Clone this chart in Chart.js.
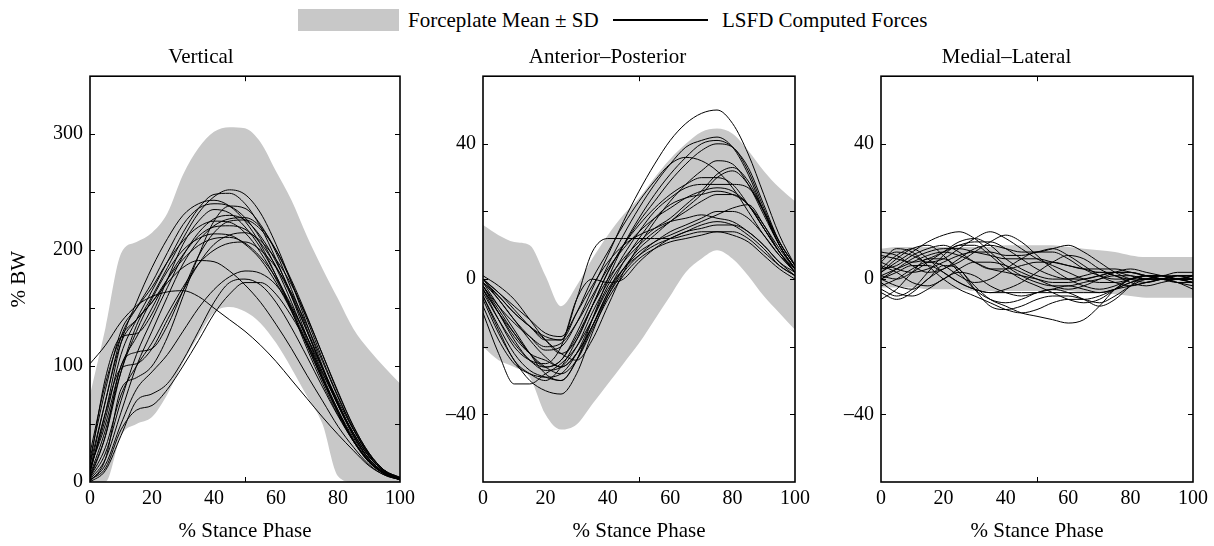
<!DOCTYPE html>
<html>
<head>
<meta charset="utf-8">
<script src="https://cdn.jsdelivr.net/npm/chart.js@4"></script>
<style>
  body { margin: 0; width: 1214px; height: 546px; background: #fff; position: relative; overflow: hidden;
         font-family: "Liberation Serif", "Times New Roman", serif; }
  canvas { position: absolute; top: 40px; }
  .leg { position: absolute; font-size: 21px; line-height: 22px; top: 9px; white-space: nowrap; }
</style>
</head>
<body>
<div style="position:absolute;left:298px;top:9px;width:101px;height:22px;background:#c8c8c8"></div>
<div class="leg" style="left:408px">Forceplate Mean ± SD</div>
<div style="position:absolute;left:613px;top:19px;width:95px;height:2px;background:#000"></div>
<div class="leg" style="left:722px">LSFD Computed Forces</div>

<canvas id="vert" width="420" height="506" style="left:0px"></canvas>
<canvas id="ap" width="395" height="506" style="left:420px"></canvas>
<canvas id="ml" width="394" height="506" style="left:820px"></canvas>

<script>
// % stance phase, sampled every 5 %
const stance = [0, 5, 10, 15, 20, 25, 30, 35, 40, 45, 50, 55, 60, 65, 70, 75, 80, 85, 90, 95, 100];

// forceplate mean +/- SD bands
const vertUpper = [75, 133, 197, 207, 215, 232, 265, 288, 302, 306, 305, 293, 268, 243, 212, 184, 158, 132, 114, 99, 85];
const vertLower = [0, 0, 40, 50, 56, 76, 103, 126, 146, 151, 147, 137, 120, 98, 74, 50, 5, 0, 0, 0, 0];
const apUpper = [16, 13, 11, 10, 1, -8, -2, 6, 13, 19, 24, 30, 35.5, 40, 43.5, 44.5, 43, 38, 32, 27, 23];
const apLower = [-20, -24, -26, -29, -40, -44.5, -43, -37, -31, -25, -19, -12, -5, 2, 6, 8.5, 6, 1, -5, -10, -15];
const mlUpper = [9, 9.5, 9.5, 9.5, 9.5, 9.5, 9.5, 9.5, 10, 10, 10, 10, 9.5, 9, 8.5, 8, 7, 6.5, 6.5, 6.5, 6.5];
const mlLower = [-2.5, -2.5, -2.5, -3, -3, -3, -3.5, -3.5, -3.5, -3.5, -3.5, -3.5, -3.5, -4, -4, -4.5, -5, -5.5, -5.5, -5.5, -5.5];

// LSFD computed forces, one row per trial
const vertTrials = [
  [5, 40, 95, 135, 160, 185, 210, 232, 246, 252, 248, 232, 205, 172, 136, 100, 68, 40, 20, 8, 2],
  [10, 55, 110, 140, 165, 190, 215, 236, 248, 249, 240, 220, 192, 160, 125, 92, 62, 36, 18, 7, 3],
  [8, 60, 120, 155, 185, 210, 230, 240, 243, 238, 225, 205, 178, 148, 115, 85, 58, 35, 17, 7, 3],
  [15, 70, 125, 150, 172, 198, 222, 236, 240, 238, 228, 210, 185, 155, 122, 90, 60, 35, 17, 7, 2],
  [3, 25, 70, 110, 140, 168, 195, 215, 227, 230, 226, 212, 190, 162, 130, 98, 68, 42, 22, 9, 3],
  [2, 20, 60, 100, 130, 160, 188, 208, 221, 227, 228, 220, 200, 172, 140, 106, 74, 46, 24, 10, 4],
  [20, 80, 130, 150, 168, 190, 208, 220, 225, 224, 215, 198, 175, 148, 118, 88, 60, 36, 18, 8, 3],
  [12, 50, 100, 125, 150, 175, 196, 212, 220, 221, 218, 206, 186, 160, 130, 98, 68, 42, 22, 9, 3],
  [6, 45, 95, 130, 158, 182, 200, 210, 214, 213, 205, 192, 172, 147, 118, 88, 60, 36, 18, 7, 2],
  [25, 85, 125, 140, 155, 175, 192, 204, 210, 211, 206, 194, 176, 152, 125, 95, 66, 40, 20, 8, 3],
  [4, 30, 75, 100, 120, 145, 168, 188, 200, 206, 207, 200, 185, 163, 135, 104, 73, 45, 23, 9, 3],
  [10, 70, 120, 140, 155, 172, 185, 191, 190, 182, 170, 155, 136, 115, 92, 70, 48, 30, 15, 6, 2],
  [1, 15, 50, 80, 95, 110, 130, 150, 166, 177, 182, 180, 170, 150, 125, 98, 70, 45, 24, 10, 4],
  [0, 10, 40, 70, 76, 85, 105, 130, 155, 172, 175, 170, 155, 133, 108, 82, 57, 35, 18, 7, 2],
  [2, 12, 45, 62, 66, 80, 100, 122, 145, 162, 172, 172, 162, 143, 120, 94, 67, 42, 22, 9, 3],
  [3, 40, 100, 112, 115, 135, 165, 195, 215, 225, 226, 218, 200, 174, 143, 110, 77, 48, 25, 10, 3],
  [102, 118, 138, 152, 160, 164, 165, 160, 150, 140, 130, 118, 104, 88, 72, 56, 41, 27, 14, 6, 2],
  [0, 20, 80, 90, 100, 125, 160, 195, 225, 238, 236, 222, 198, 166, 132, 98, 66, 40, 20, 8, 2],
  [15, 90, 125, 128, 145, 175, 205, 225, 235, 232, 220, 202, 178, 150, 120, 90, 62, 38, 19, 7, 2],
  [8, 60, 98, 102, 115, 140, 165, 188, 205, 213, 215, 208, 192, 170, 142, 110, 78, 48, 25, 10, 3]
];
const apTrials = [
  [0, -6, -12, -17, -21, -20, -13, -3, 7, 17, 26, 34, 41, 46, 49, 50, 46, 37, 25, 13, 4],
  [-3, -10, -16, -22, -26, -24, -16, -6, 4, 13, 21, 28, 34, 39, 41, 42, 39, 31, 20, 10, 3],
  [-1, -8, -15, -22, -28, -30, -24, -12, 0, 10, 18, 25, 31, 36, 40, 41, 39, 33, 22, 11, 4],
  [-5, -15, -24, -28, -30, -26, -18, -8, 2, 10, 17, 23, 29, 34, 38, 40, 39, 32, 21, 11, 4],
  [0, -5, -10, -14, -18, -18, -10, 0, 8, 16, 23, 29, 34, 36, 35, 32, 27, 20, 13, 7, 3],
  [-2, -10, -18, -24, -26, -24, -17, -8, 0, 6, 11, 15, 18, 22, 26, 31, 33, 29, 20, 10, 3],
  [-8, -18, -25, -28, -29, -28, -22, -12, -2, 5, 10, 14, 17, 21, 25, 30, 32, 28, 20, 11, 4],
  [1, -2, -6, -12, -18, -22, -18, -8, 2, 10, 16, 21, 25, 28, 30, 30, 28, 22, 15, 8, 2],
  [-4, -12, -19, -24, -27, -26, -20, -10, -1, 7, 14, 20, 24, 27, 28, 28, 28, 27, 20, 10, 3],
  [-2, -8, -13, -17, -20, -19, -13, -5, 3, 9, 14, 18, 21, 24, 26, 27, 26, 22, 15, 8, 2],
  [-6, -16, -24, -30, -33, -34, -28, -16, -5, 3, 9, 13, 17, 20, 23, 25, 25, 22, 16, 9, 3],
  [-1, -6, -12, -18, -23, -26, -22, -14, -5, 2, 7, 11, 13, 15, 17, 19, 21, 22, 16, 8, 2],
  [-10, -22, -31, -31, -28, -25, -20, -12, -3, 3, 8, 11, 14, 16, 18, 20, 20, 18, 13, 7, 2],
  [0, -4, -8, -12, -16, -17, -10, -2, 5, 10, 13, 15, 17, 18, 19, 18, 17, 14, 10, 5, 1],
  [-1, -5, -10, -14, -17, -18, -6, 8, 12, 12, 12, 12, 12, 13, 14, 14, 13, 11, 7, 3, 0],
  [-3, -12, -20, -24, -25, -20, -6, 0, -1, 0, 5, 9, 12, 14, 16, 17, 16, 13, 9, 4, 1],
  [-5, -14, -22, -27, -29, -30, -24, -14, -4, 3, 7, 10, 12, 14, 15, 16, 16, 14, 10, 5, 2],
  [-2, -9, -16, -22, -26, -28, -24, -15, -6, 1, 6, 9, 11, 12, 13, 14, 14, 12, 8, 4, 1],
  [0, -4, -9, -14, -18, -22, -24, -18, -8, 2, 10, 17, 23, 28, 32, 35, 34, 28, 19, 10, 3],
  [-3, -10, -17, -22, -24, -26, -22, -14, -4, 5, 12, 18, 22, 24, 25, 26, 25, 22, 15, 8, 3]
];
const mlTrials = [
  [2, 5, 8, 11, 13, 14, 12, 8, 4, 1, -1, -2, -2, -1, 0, 1, 1, 0, 0, 1, 1],
  [6, 8, 7, 5, 6, 9, 12, 14, 12, 9, 6, 4, 2, 0, -1, -1, 0, 1, 1, 0, 0],
  [-6, -3, 2, 6, 6, 3, -2, -6, -8, -10, -11, -12, -13, -12, -8, -3, 0, 1, 0, -1, -1],
  [0, -2, -3, 0, 4, 3, -3, -8, -9, -8, -6, -5, -5, -6, -7, -5, -2, 0, 1, 0, 0],
  [3, 7, 9, 6, 2, -1, -3, -4, -3, -1, 2, 5, 7, 6, 3, 1, 0, 0, 1, 1, 0],
  [8, 7, 4, 2, 3, 6, 9, 10, 9, 8, 8, 9, 10, 8, 5, 2, 0, -1, 0, 1, 1],
  [0, 3, 6, 8, 9, 9, 8, 7, 6, 6, 6, 5, 4, 3, 2, 2, 1, 0, 0, 0, 0],
  [-3, -5, -3, 2, 7, 10, 10, 7, 3, 0, -2, -4, -6, -7, -6, -3, 0, 1, 1, 0, -1],
  [4, 2, -1, -2, 0, 3, 5, 5, 4, 2, 0, -2, -3, -2, 0, 2, 3, 2, 1, 0, 0],
  [1, 0, 2, 5, 8, 11, 12, 10, 6, 3, 1, 0, 0, 1, 2, 1, -1, -2, -1, 0, 1],
  [-1, -4, -5, -3, 0, 2, 1, -2, -4, -5, -4, -3, -2, -3, -4, -3, -1, 0, 0, -1, -2],
  [5, 3, 2, 3, 5, 7, 8, 8, 7, 7, 8, 9, 7, 4, 1, -1, -2, -1, 0, 1, 0],
  [2, 6, 9, 10, 7, 2, -3, -6, -7, -6, -4, -3, -4, -6, -8, -6, -2, 1, 1, 0, -1],
  [-2, 0, 3, 5, 4, 1, -1, 0, 3, 6, 8, 8, 6, 3, 1, 0, 0, 1, 1, 0, 0],
  [7, 6, 5, 6, 8, 10, 11, 11, 9, 6, 3, 1, 0, 0, 1, 2, 2, 1, 0, 0, 1],
  [0, 2, 4, 4, 2, -1, -3, -4, -4, -4, -4, -4, -4, -4, -4, -3, -2, -1, 0, 1, 1],
  [3, 4, 7, 9, 10, 8, 5, 3, 3, 4, 5, 5, 4, 3, 3, 3, 2, 1, 0, 0, 0],
  [-4, -6, -4, 0, 3, 5, 8, 11, 13, 11, 7, 3, 0, -2, -3, -2, 0, 1, 0, -1, -3],
  [1, 3, 5, 7, 8, 7, 5, 3, 2, 1, 0, -1, -1, 0, 1, 2, 2, 1, 1, 2, 2],
  [5, 9, 8, 4, 0, -3, -5, -7, -9, -10, -9, -7, -6, -6, -5, -3, -1, 0, 0, 0, -1]
];

// inward tick marks (matlab style box)
const xMarks = [50];
const vertMarks = [50, 100, 150, 200, 250, 300];
const forceMarks = [-40, -20, 0, 20, 40];

const serif = '"Liberation Serif", "Times New Roman", serif';
const pts = arr => arr.map((v, i) => ({ x: stance[i], y: v }));

const boxPlugin = {
  id: 'box',
  afterDatasetsDraw(chart, args, opts) {
    const { ctx, chartArea: a, scales } = chart;
    ctx.save();
    ctx.strokeStyle = '#000';
    ctx.lineWidth = 1;
    ctx.beginPath();
    opts.xMarks.forEach(v => {
      const px = Math.round(scales.x.getPixelForValue(v)) + 0.5;
      ctx.moveTo(px, a.bottom); ctx.lineTo(px, a.bottom - 5);
      ctx.moveTo(px, a.top); ctx.lineTo(px, a.top + 5);
    });
    opts.yMarks.forEach(v => {
      const py = Math.round(scales.y.getPixelForValue(v)) + 0.5;
      ctx.moveTo(a.left, py); ctx.lineTo(a.left + 5, py);
      ctx.moveTo(a.right, py); ctx.lineTo(a.right - 5, py);
    });
    ctx.stroke();
    ctx.lineWidth = 1.6;
    ctx.strokeRect(a.left, a.top, a.right - a.left, a.bottom - a.top);
    ctx.restore();
  }
};

function panel(id, title, upper, lower, trials, yMin, yMax, yStep, yLabelStep, yMarks, yAxisWidth, padRight, yTitle) {
  const datasets = [
    { data: pts(upper), fill: '+1', backgroundColor: '#c8c8c8', borderWidth: 0, pointRadius: 0, cubicInterpolationMode: 'monotone', order: 2 },
    { data: pts(lower), fill: false, borderWidth: 0, pointRadius: 0, cubicInterpolationMode: 'monotone', order: 2 }
  ];
  trials.forEach(t => datasets.push({
    data: pts(t), borderColor: '#000', borderWidth: 1, pointRadius: 0,
    cubicInterpolationMode: 'monotone', fill: false, order: 1
  }));
  new Chart(document.getElementById(id), {
    type: 'line',
    data: { datasets },
    options: {
      responsive: false,
      animation: false,
      devicePixelRatio: 1,
      layout: { padding: { left: 0, right: padRight, top: 0, bottom: 0 } },
      plugins: {
        legend: { display: false },
        tooltip: { enabled: false },
        title: { display: true, text: title, color: '#000', font: { family: serif, size: 21, weight: 'normal' }, padding: { top: 5, bottom: 6 } },
        box: { xMarks, yMarks }
      },
      scales: {
        x: {
          type: 'linear', min: 0, max: 100,
          grid: { display: false, drawTicks: false },
          border: { display: false },
          ticks: { stepSize: 20, padding: 5, color: '#000', font: { family: serif, size: 20 }, maxRotation: 0 },
          title: { display: true, text: '% Stance Phase', color: '#000', font: { family: serif, size: 21 }, padding: { top: 0, bottom: 2 } },
          afterFit: s => { s.height = 64; }
        },
        y: {
          min: yMin, max: yMax,
          grid: { display: false, drawTicks: false },
          border: { display: false },
          ticks: {
            stepSize: yStep, padding: 7, color: '#000', font: { family: serif, size: 20 },
            callback: v => (v % yLabelStep === 0 ? (v < 0 ? '\u2013' + Math.abs(v) : String(v)) : '')
          },
          title: { display: !!yTitle, text: yTitle || '', color: '#000', font: { family: serif, size: 21 }, padding: { top: 7, bottom: 0 } },
          afterFit: s => { s.width = yAxisWidth; }
        }
      }
    },
    plugins: [boxPlugin]
  });
}

panel('vert', 'Vertical', vertUpper, vertLower, vertTrials, 0, 350, 50, 100, vertMarks, 90, 18, '% BW');
panel('ap', 'Anterior\u2013Posterior', apUpper, apLower, apTrials, -60, 60, 20, 40, forceMarks, 63, 20, null);
panel('ml', 'Medial\u2013Lateral', mlUpper, mlLower, mlTrials, -60, 60, 20, 40, forceMarks, 61, 21, null);
</script>
</body>
</html>
